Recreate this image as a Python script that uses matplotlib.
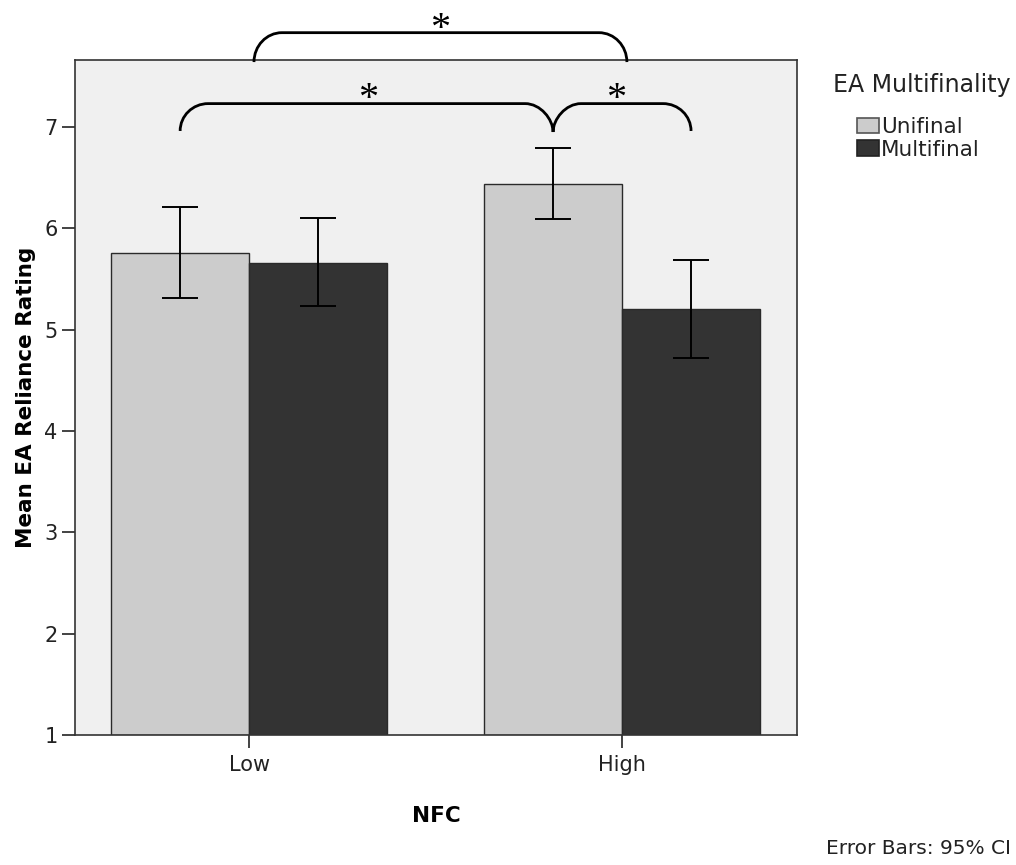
import matplotlib
matplotlib.use("Agg")
import matplotlib.pyplot as plt
import numpy as np
from matplotlib.path import Path
from matplotlib.patches import PathPatch, Patch

plt.rcParams['font.family'] = ['DejaVu Sans']

categories = ["Low", "High"]
series_names = ["Unifinal", "Multifinal"]
means = {"Unifinal": [5.76, 6.44], "Multifinal": [5.66, 5.20]}
ci_low = {"Unifinal": [5.31, 6.09], "Multifinal": [5.23, 4.72]}
ci_high = {"Unifinal": [6.21, 6.79], "Multifinal": [6.10, 5.69]}
colors = {"Unifinal": "#cccccc", "Multifinal": "#333333"}

fig = plt.figure(figsize=(10.16, 8.65), dpi=100)
ax = fig.add_axes([0.0738, 0.1503, 0.7106, 0.7803])
ax.set_facecolor("#f0f0f0")

x = np.arange(len(categories))
w = 0.37
offsets = {"Unifinal": -w / 2, "Multifinal": w / 2}
centers = {}
for s in series_names:
    xs = x + offsets[s]
    centers[s] = xs
    m = np.array(means[s])
    lo = m - np.array(ci_low[s])
    hi = np.array(ci_high[s]) - m
    ax.bar(xs, m - 1, bottom=1, width=w, color=colors[s], edgecolor="#2a2a2a",
           linewidth=1.0, zorder=2)
    ax.errorbar(xs, m, yerr=[lo, hi], fmt="none", ecolor="black", elinewidth=1.4,
                capsize=13, capthick=1.4, zorder=3)

ax.set_xlim(-0.467, 1.469)
ax.set_ylim(1, 7.66)
ax.set_yticks([1, 2, 3, 4, 5, 6, 7])
ax.set_xticks(x)
ax.set_xticklabels(categories)
ax.tick_params(axis="both", direction="out", length=9.5, width=1.2, colors="#222222",
               labelsize=15, pad=3)
ax.tick_params(axis="x", pad=5)
for sp in ax.spines.values():
    sp.set_color("#333333")
    sp.set_linewidth(1.2)
ax.set_ylabel("Mean EA Reliance Rating", fontsize=15.5, fontweight="bold", labelpad=6)
ax.set_xlabel("NFC", fontsize=15.5, fontweight="bold", labelpad=22)


def bracket(ax, xl, xr, ytop, ybl, ybr, rx, cusp=None, ybc=None):
    k = 0.5523
    verts = []
    codes = []
    verts += [(xl, ybl), (xl, ybl + k * (ytop - ybl)), (xl + rx - k * rx, ytop), (xl + rx, ytop)]
    codes += [Path.MOVETO, Path.CURVE4, Path.CURVE4, Path.CURVE4]
    if cusp is not None:
        verts += [(cusp - rx, ytop)]
        codes += [Path.LINETO]
        verts += [(cusp - rx + k * rx, ytop), (cusp, ytop - k * (ytop - ybc)), (cusp, ybc)]
        codes += [Path.CURVE4] * 3
        verts += [(cusp, ytop - k * (ytop - ybc)), (cusp + rx - k * rx, ytop), (cusp + rx, ytop)]
        codes += [Path.CURVE4] * 3
    verts += [(xr - rx, ytop)]
    codes += [Path.LINETO]
    verts += [(xr - rx + k * rx, ytop), (xr, ybr + k * (ytop - ybr)), (xr, ybr)]
    codes += [Path.CURVE4] * 3
    p = PathPatch(Path(verts, codes), facecolor="none", edgecolor="black", lw=2.0,
                  clip_on=False, zorder=5)
    ax.add_patch(p)


rx = 0.075
bracket(ax, 0.013, 1.013, 7.93, 7.64, 7.64, rx)
bracket(ax, centers["Unifinal"][0], centers["Multifinal"][1], 7.23, 6.96, 6.96, rx,
        cusp=centers["Unifinal"][1], ybc=6.95)

star_kw = dict(ha="center", va="center", fontsize=29, family="Liberation Serif",
               clip_on=False, zorder=6)
ax.text(0.513, 7.96, "*", **star_kw)
ax.text(0.32, 7.27, "*", **star_kw)
ax.text(0.985, 7.27, "*", **star_kw)

fig.text(833 / 1016, 1 - 92 / 865, "EA Multifinality", ha="left", va="baseline",
         fontsize=17, color="#222222")
handles = [Patch(facecolor=colors[s], edgecolor="#555555" if s == "Unifinal" else "#222222",
                 linewidth=1.2) for s in series_names]
leg = fig.legend(handles, series_names, loc="upper left",
                 bbox_to_anchor=(857 / 1016, 1 - 117 / 865), frameon=False, fontsize=15.5,
                 handlelength=1.0, handleheight=0.72, handletextpad=0.1,
                 labelspacing=0.12, borderpad=0, borderaxespad=0)
for t in leg.get_texts():
    t.set_color("#222222")

fig.text(0.995, 0.008, "Error Bars: 95% CI", ha="right", va="bottom", fontsize=14.5,
         color="#222222")

fig.savefig("out.png", dpi=100, facecolor="white")
